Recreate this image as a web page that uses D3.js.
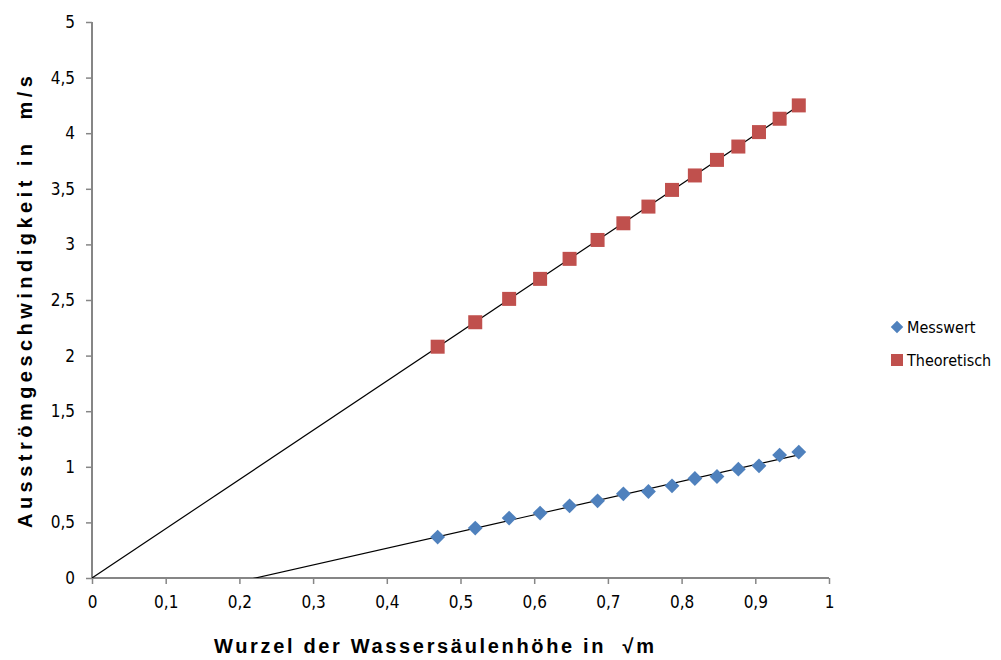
<!DOCTYPE html>
<html>
<head>
<meta charset="utf-8">
<script src="https://cdn.jsdelivr.net/npm/d3@7"></script>
<style>
  html, body { margin: 0; padding: 0; background: #fff; }
  svg { display: block; }
</style>
</head>
<body>
<svg id="chart" width="1001" height="660"></svg>
<script>
// Square root of the water column height (√m)
const wurzelHoehe = [0.469, 0.520, 0.566, 0.608, 0.648, 0.686, 0.721, 0.755, 0.787, 0.818, 0.848, 0.877, 0.905, 0.933, 0.959];
// Measured outflow velocity (m/s)
const messwert = [0.368, 0.449, 0.539, 0.584, 0.649, 0.694, 0.757, 0.778, 0.829, 0.895, 0.913, 0.979, 1.009, 1.105, 1.132];
// Theoretical outflow velocity (m/s)
const theoretisch = [2.08, 2.30, 2.51, 2.69, 2.87, 3.04, 3.19, 3.34, 3.49, 3.62, 3.76, 3.88, 4.01, 4.13, 4.25];

const xTicks = [0, 0.1, 0.2, 0.3, 0.4, 0.5, 0.6, 0.7, 0.8, 0.9, 1];
const yTicks = [0, 0.5, 1, 1.5, 2, 2.5, 3, 3.5, 4, 4.5, 5];

const seriesNames = ["Messwert", "Theoretisch"];
const seriesColors = ["#4F81BD", "#C0504D"];

const svg = d3.select("#chart");
const plot = { left: 92, right: 829, top: 22, bottom: 578 };

const x = d3.scaleLinear().domain([0, 1]).range([plot.left, plot.right]);
const y = d3.scaleLinear().domain([0, 5]).range([plot.bottom, plot.top]);

const fmt = d => String(d).replace(".", ",");
const axisColor = "#868686";
const labelFont = "'DejaVu Sans Condensed', 'DejaVu Sans', Verdana, sans-serif";
const titleFont = "'Liberation Sans', Arial, sans-serif";

// Y axis
const yAxis = svg.append("g")
  .attr("transform", `translate(${plot.left},0)`)
  .call(d3.axisLeft(y).tickValues(yTicks).tickFormat(fmt).tickSize(6).tickPadding(11));
// X axis
const xAxis = svg.append("g")
  .attr("transform", `translate(0,${plot.bottom})`)
  .call(d3.axisBottom(x).tickValues(xTicks).tickFormat(fmt).tickSize(6).tickPadding(12));

[yAxis, xAxis].forEach(g => {
  g.select(".domain").attr("stroke", axisColor).attr("stroke-width", 2);
  g.selectAll(".tick line").attr("stroke", axisColor).attr("stroke-width", 1.5);
  g.selectAll(".tick text")
    .attr("fill", "#000")
    .style("font-family", labelFont)
    .style("font-stretch", "condensed")
    .style("font-size", "17px");
});
// Plain axis lines without the end stubs
yAxis.select(".domain").attr("d", `M0,${plot.bottom + 1}V${plot.top}`);
xAxis.select(".domain").attr("d", `M${plot.left},0H${plot.right}`);

// Linear regression trend lines, forecast back to x = 0 and clipped to the plot area
svg.append("clipPath").attr("id", "plotClip")
  .append("rect")
  .attr("x", plot.left).attr("y", plot.top)
  .attr("width", plot.right - plot.left).attr("height", plot.bottom - plot.top);

function regression(xs, ys) {
  const mx = d3.mean(xs), my = d3.mean(ys);
  let sxy = 0, sxx = 0;
  xs.forEach((v, i) => { sxy += (v - mx) * (ys[i] - my); sxx += (v - mx) * (v - mx); });
  const slope = sxy / sxx;
  return { slope, intercept: my - slope * mx };
}

const trendGroup = svg.append("g").attr("clip-path", "url(#plotClip)");
[messwert, theoretisch].forEach(vals => {
  const r = regression(wurzelHoehe, vals);
  const x0 = 0, x1 = d3.max(wurzelHoehe);
  trendGroup.append("line")
    .attr("x1", x(x0)).attr("y1", y(r.intercept + r.slope * x0))
    .attr("x2", x(x1)).attr("y2", y(r.intercept + r.slope * x1))
    .attr("stroke", "#000").attr("stroke-width", 1.2);
});

// Markers: diamonds for measured values, squares for theoretical values
const diamond = d3.symbol().type(d3.symbolDiamond2).size(140);
svg.append("g").selectAll("path")
  .data(wurzelHoehe.map((v, i) => [v, messwert[i]]))
  .join("path")
  .attr("d", diamond)
  .attr("transform", d => `translate(${x(d[0])},${y(d[1])})`)
  .attr("fill", seriesColors[0]);

const sq = 14;
svg.append("g").selectAll("rect")
  .data(wurzelHoehe.map((v, i) => [v, theoretisch[i]]))
  .join("rect")
  .attr("x", d => x(d[0]) - sq / 2)
  .attr("y", d => y(d[1]) - sq / 2)
  .attr("width", sq).attr("height", sq)
  .attr("fill", seriesColors[1]);

// Axis titles
svg.append("text")
  .attr("transform", `translate(32,302) rotate(-90)`)
  .attr("text-anchor", "middle")
  .attr("textLength", 452)
  .attr("lengthAdjust", "spacing")
  .attr("xml:space", "preserve")
  .style("font-family", titleFont)
  .style("font-weight", "bold")
  .style("font-size", "20px")
  .text("Ausströmgeschwindigkeit in  m/s");

svg.append("text")
  .attr("x", 434).attr("y", 653)
  .attr("text-anchor", "middle")
  .attr("textLength", 440)
  .attr("lengthAdjust", "spacing")
  .attr("xml:space", "preserve")
  .style("font-family", titleFont)
  .style("font-weight", "bold")
  .style("font-size", "20px")
  .text("Wurzel der Wassersäulenhöhe in  √m");

// Legend
const legend = svg.append("g").attr("transform", "translate(897,0)");
const legendY = [327, 360];
legend.append("path")
  .attr("d", d3.symbol().type(d3.symbolDiamond2).size(100))
  .attr("transform", `translate(0,${legendY[0]})`)
  .attr("fill", seriesColors[0]);
legend.append("rect")
  .attr("x", -6).attr("y", legendY[1] - 6).attr("width", 12).attr("height", 12)
  .attr("fill", seriesColors[1]);
seriesNames.forEach((name, i) => {
  legend.append("text")
    .attr("x", 10).attr("y", legendY[i] + 6)
    .style("font-family", labelFont)
    .style("font-stretch", "condensed")
    .style("font-size", "16px")
    .style("letter-spacing", "0px")
    .text(name);
});
</script>
</body>
</html>
